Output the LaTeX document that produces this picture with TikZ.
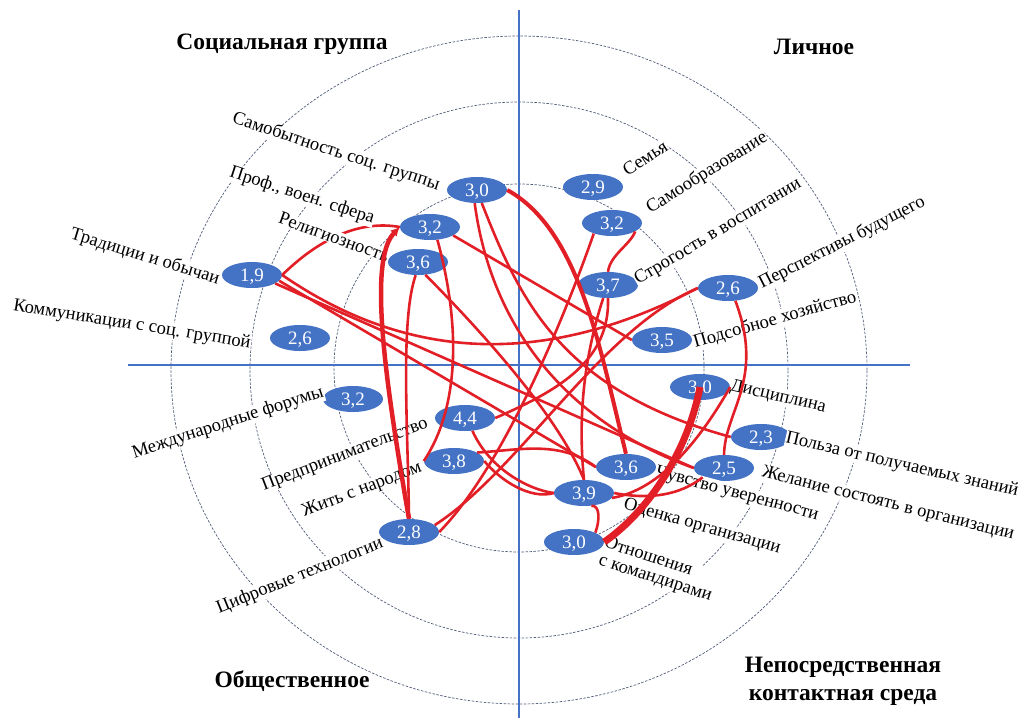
\documentclass[tikz,border=0pt]{standalone}
\usepackage{fontspec}
\setmainfont{Liberation Serif}
\usetikzlibrary{shapes.geometric,arrows.meta}
\pgfdeclarelayer{background}
\pgfsetlayers{background,main}
\definecolor{ovalblue}{RGB}{68,114,196}
\definecolor{axisblue}{RGB}{68,114,196}
\definecolor{linkred}{RGB}{226,30,38}
\definecolor{ringgray}{RGB}{80,92,120}
\tikzset{
  num/.style={ellipse,fill=ovalblue,text=white,minimum width=60pt,minimum height=26pt,inner sep=0pt,text depth=0pt,font=\fontsize{19}{19}\selectfont},
  lbl/.style={fill=white,inner sep=0.5pt,font=\fontsize{18.5}{18.5}\selectfont},
  head/.style={align=center,font=\bfseries\fontsize{23.5}{28}\selectfont},
  link/.style={draw=linkred,line width=2.6pt},
  heavy/.style={draw=linkred,line width=4pt},
  ring/.style={draw=ringgray,line width=0.7pt,dash pattern=on 2.5pt off 1.5pt},
  axisline/.style={draw=axisblue,line width=2.8pt}
}
\begin{document}
\begin{tikzpicture}[x=1pt,y=-1pt]
  \useasboundingbox (0,0) rectangle (1022,718);
  % rings and axes
  \begin{pgfonlayer}{background}
    \draw[ring] (519,368) ellipse (185pt and 184pt);
    \draw[ring] (519,370) ellipse (269pt and 268pt);
    \draw[ring] (519,370) ellipse (348pt and 334pt);
    \draw[axisline] (519,10) -- (519,718);
    \draw[axisline] (128,365) -- (910,365);
  \end{pgfonlayer}

  % quarter titles
  \node[head] (tsoc) at (282,44) {Социальная группа};
  \node[head] (tlich) at (814,47) {Личное};
  \node[head] (tobsh) at (292,681) {Общественное};
  \node[head] (tkont) at (843,681) {Непосредственная\\контактная среда};

  % numbers
  \node[num] (sam) at (477,190) {3,0};
  \node[num] (prof) at (430,227) {3,2};
  \node[num] (rel) at (418,262) {3,6};
  \node[num] (trad) at (252,275) {1,9};
  \node[num] (komm) at (300,338) {2,6};
  \node[num] (sem) at (593,187) {2,9};
  \node[num] (samoobr) at (612,223) {3,2};
  \node[num] (strog) at (608,285) {3,7};
  \node[num] (persp) at (728,288) {2,6};
  \node[num] (podsob) at (662,340) {3,5};
  \node[num] (disc) at (700,387) {3,0};
  \node[num] (polza) at (761,437) {2,3};
  \node[num] (zhel) at (724,468) {2,5};
  \node[num] (chuv) at (626,467) {3,6};
  \node[num] (ocen) at (584,493) {3,9};
  \node[num] (otn) at (574,542) {3,0};
  \node[num] (forum) at (353,399) {3,2};
  \node[num] (predpr) at (465,418) {4,4};
  \node[num] (zhit) at (454,461) {3,8};
  \node[num] (cifr) at (409,532) {2,8};

  \draw[link] (trad.east) .. controls (320,238) and (360,220) .. (prof.west);

  % labels
  \node[lbl,rotate=-18] (lsam) at (336,152) {Самобытность соц. группы};
  \node[lbl,rotate=-18] (lprof) at (302,196) {Проф., воен. сфера};
  \node[lbl,rotate=-20] (lrel) at (334,237) {Религиозность};
  \node[lbl,rotate=-17] (ltrad) at (145,257) {Традиции и обычаи};
  \node[lbl,rotate=-9] (lkomm) at (132,325) {Коммуникации с соц. группой};
  \node[lbl,rotate=33] (lsem) at (645,158) {Семья};
  \node[lbl,rotate=32] (lsamoobr) at (707,173) {Самообразование};
  \node[lbl,rotate=31] (lstrog) at (718,232) {Строгость в воспитании};
  \node[lbl,rotate=27] (lpersp) at (842,243) {Перспективы будущего};
  \node[lbl,rotate=16] (lpodsob) at (775,320) {Подсобное хозяйство};
  \node[lbl,rotate=-13] (ldisc) at (778,397) {Дисциплина};
  \node[lbl,rotate=-13] (lpolza) at (902,465) {Польза от получаемых знаний};
  \node[lbl,rotate=-14] (lzhel) at (888,504) {Желание состоять в организации};
  \node[lbl,rotate=-15] (lchuv) at (737,494) {Чувство уверенности};
  \node[lbl,rotate=-16] (locen) at (702,527) {Оценка организации};
  \node[lbl,rotate=-18,align=left] (lotn) at (658,570) {Отношения\\с командирами};
  \node[lbl,rotate=18] (lforum) at (228,423) {Международные форумы};
  \node[lbl,rotate=21] (lpredpr) at (345,455) {Предпринимательство};
  \node[lbl,rotate=21] (lzhit) at (362,490) {Жить с народом};
  \node[lbl,rotate=22] (lcifr) at (300,576) {Цифровые технологии};

  % links
  \draw[link] (trad.east) .. controls (420,370) and (560,360) .. (persp.west);
  \draw[link] (trad.-12) -- (chuv.west);
  \draw[link] (trad.-20) -- (zhel.west);
  \draw[link] (prof.-20) -- (podsob.west);
  \draw[link] (prof.-60) .. controls (462,330) and (458,410) .. (zhit.west);
  \draw[link] (rel.-100) .. controls (400,320) and (408,430) .. (cifr.north);
  \draw[link] (rel.-60) .. controls (490,340) and (560,420) .. (ocen.north);
  \draw[heavy] (sam.east) .. controls (580,230) and (600,350) .. (chuv.north);
  \draw[link] (sam.-100) .. controls (490,320) and (560,420) .. (zhel.west);
  \draw[link] (sam.-70) .. controls (520,300) and (560,390) .. (polza.west);
  \draw[heavy,line width=4.5pt,-{Latex[length=9pt,width=9pt]}] (cifr.north) .. controls (385,380) and (368,260) .. (prof.west);
  \draw[link] (samoobr.-20) .. controls (630,245) and (610,255) .. (strog.north);
  \draw[link] (samoobr.-150) .. controls (560,330) and (500,470) .. (cifr.east);
  \draw[link] (strog.-110) .. controls (583,360) and (578,420) .. (ocen.north);
  \draw[link] (predpr.east) .. controls (560,390) and (610,360) .. (strog.south);
  \draw[link] (cifr.15) .. controls (520,470) and (600,330) .. (persp.west);
  \draw[link] (zhit.east) .. controls (500,480) and (530,500) .. (ocen.west);
  \draw[link] (predpr.-60) .. controls (490,470) and (530,490) .. (ocen.west);
  \draw[link] (zhit.20) .. controls (520,450) and (560,440) .. (chuv.west);
  \draw[link] (ocen.east) .. controls (650,500) and (680,495) .. (zhel.south west);
  \draw[link] (otn.north east) .. controls (600,520) and (600,505) .. (ocen.-60);
  \draw[link] (ocen.-10) .. controls (660,490) and (700,440) .. (disc.east);
  \draw[link] (persp.-60) .. controls (765,380) and (725,410) .. (zhel.north);
  \draw[draw=linkred,line width=7pt] (disc.center) .. controls (688,450) and (650,510) .. (otn.east);
\end{tikzpicture}
\end{document}
